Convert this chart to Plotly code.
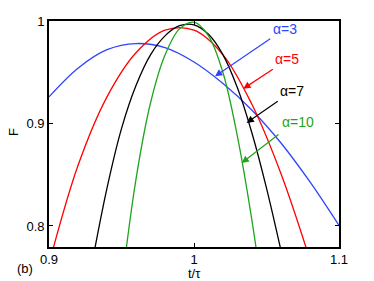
import plotly.graph_objects as go

# data
t3 = [0.90, 0.92, 0.94, 0.96, 0.98, 1.00, 1.02, 1.04, 1.06, 1.08, 1.10]
f3 = [0.926, 0.954, 0.972, 0.978, 0.974, 0.960, 0.939, 0.913, 0.881, 0.843, 0.8006]

t5 = [0.90, 0.92, 0.94, 0.96, 0.98, 1.00, 1.02, 1.04, 1.06, 1.08]
f5 = [0.763, 0.859, 0.926, 0.969, 0.991, 0.991, 0.967, 0.9185, 0.851, 0.767]

t7 = [0.93, 0.94, 0.95, 0.96, 0.97, 0.98, 0.99, 1.00, 1.01, 1.02, 1.03, 1.04, 1.05, 1.06]
f7 = [0.766, 0.837, 0.895, 0.937, 0.967, 0.9855, 0.9954, 0.9963, 0.987, 0.967, 0.9346, 0.8905, 0.837, 0.776]

t10 = [0.95, 0.96, 0.97, 0.98, 0.99, 1.00, 1.01, 1.02, 1.03, 1.04, 1.05]
f10 = [0.741, 0.8457, 0.920, 0.9668, 0.9923, 0.9988, 0.9855, 0.9495, 0.887, 0.805, 0.706]

labels = ["α=3", "α=5", "α=7", "α=10"]
colors = ["#2f43ff", "#ff0000", "#000000", "#1ea51e"]
# label positions (text), arrow tail, arrow head in data coords
text_pos = [(1.0628, 0.992), (1.0639, 0.963), (1.0674, 0.932), (1.072, 0.901)]
tails = [(1.0536, 0.9837), (1.0554, 0.9538), (1.0588, 0.9228), (1.0593, 0.8904)]
heads = [(1.0145, 0.946), (1.034, 0.934), (1.0363, 0.9006), (1.0329, 0.8615)]

x_ticks = [0.9, 1.0, 1.1]
x_tick_text = ["0.9", "1", "1.1"]
y_ticks = [0.8, 0.9, 1.0]
y_tick_text = ["0.8", "0.9", "1"]

fig = go.Figure()
for tx, fy, c in zip([t3, t5, t7, t10], [f3, f5, f7, f10], colors):
    fig.add_trace(go.Scatter(x=tx, y=fy, mode="lines",
                             line=dict(color=c, width=1.3, shape="spline", smoothing=1.0),
                             showlegend=False, hoverinfo="skip"))

font = "Liberation Sans, Arial, sans-serif"
for lab, c, tp, tl, hd in zip(labels, colors, text_pos, tails, heads):
    fig.add_annotation(x=tp[0], y=tp[1], text=lab, showarrow=False,
                       font=dict(color=c, size=14, family=font), xanchor="center", yanchor="middle")
    fig.add_annotation(x=hd[0], y=hd[1], ax=tl[0], ay=tl[1], axref="x", ayref="y",
                       text="", showarrow=True, arrowhead=2, arrowsize=1.2,
                       arrowwidth=1.2, arrowcolor=c)

W, H = 374, 281
L, R, T, B = 49, 35, 21, 34
pw, ph = W - L - R, H - T - B


def px(xp):
    return (xp - L) / pw


def py(yp):
    return (H - B - yp) / ph


fig.add_annotation(x=px(25), y=py(268), xref="paper", yref="paper", text="(b)", showarrow=False,
                   font=dict(size=13, family=font, color="black"), xanchor="center", yanchor="middle")
fig.add_annotation(x=px(194), y=py(273), xref="paper", yref="paper", text="t/τ", showarrow=False,
                   font=dict(size=13, family=font, color="black"), xanchor="center", yanchor="middle")
fig.add_annotation(x=px(13), y=py(132), xref="paper", yref="paper", text="F", showarrow=False,
                   textangle=-90,
                   font=dict(size=13, family=font, color="black"), xanchor="center", yanchor="middle")

fig.update_layout(
    width=W, height=H,
    margin=dict(l=L, r=R, t=T, b=B),
    paper_bgcolor="white", plot_bgcolor="white",
    font=dict(family=font, size=13, color="black"),
)

fig.update_xaxes(range=[0.9, 1.1], tickvals=x_ticks, ticktext=x_tick_text,
                 ticks="inside", ticklen=4, tickcolor="black", mirror="ticks",
                 showline=True, linecolor="black", linewidth=1.6, showgrid=False,
                 zeroline=False, automargin=False, tickfont=dict(size=13))
fig.update_yaxes(range=[0.7795, 1.0], tickvals=y_ticks, ticktext=y_tick_text,
                 ticks="inside", ticklen=4, tickcolor="black", mirror="ticks",
                 showline=True, linecolor="black", linewidth=1.6, showgrid=False,
                 zeroline=False, automargin=False, tickfont=dict(size=13))

fig.write_html("out.html", config={"displayModeBar": False},
               post_script="document.body.style.margin='0';document.body.style.overflow='hidden';")
